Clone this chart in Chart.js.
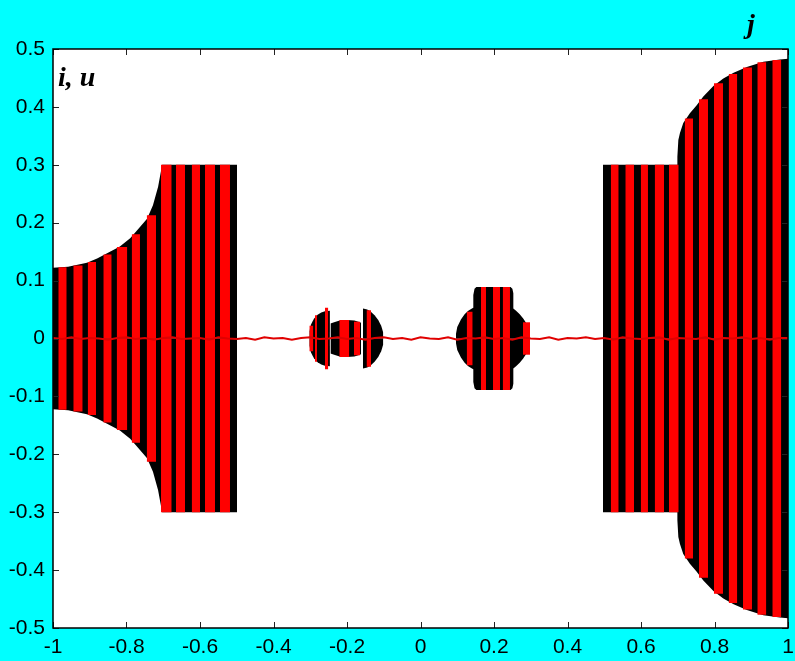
<!DOCTYPE html>
<html><head><meta charset="utf-8">
<script src="https://cdn.jsdelivr.net/npm/chart.js@4.4.0/dist/chart.umd.min.js"></script>
<style>html,body{margin:0;padding:0;background:#00ffff;} #wrap{width:795px;height:661px;}</style>
</head><body><div id="wrap"><canvas id="c" width="795" height="661"></canvas></div>
<script>
// ---- data ----
// i(j): envelope vertices of the black signal (null = gap)
const iJ = [
  -1, -0.959, -0.9075, -0.88, -0.845, -0.818, -0.79, -0.771, -0.744, -0.728, -0.714, -0.703, -0.499,
  -0.4,
  -0.3025, -0.298, -0.29, -0.28, -0.27, -0.26, -0.2465,
  -0.2457,
  -0.245, -0.235, -0.22, -0.2, -0.18, -0.165, -0.1619,
  -0.159,
  -0.1565, -0.145, -0.135, -0.125, -0.115, -0.107, -0.1012,
  0,
  0.0966, 0.1, 0.11, 0.12, 0.13, 0.14, 0.1437, 0.1437, 0.147, 0.152, 0.245, 0.25, 0.2526, 0.2526, 0.26, 0.27, 0.28, 0.29, 0.298,
  0.4,
  0.4966, 0.699, 0.699, 0.7016, 0.706, 0.715, 0.733, 0.7516, 0.7696, 0.797, 0.824, 0.852, 0.888, 0.933, 0.978, 1
];
const iAmp = [
  0.122, 0.124, 0.131, 0.138, 0.150, 0.159, 0.173, 0.187, 0.207, 0.230, 0.262, 0.300, 0.300,
  null,
  0.012, 0.024, 0.034, 0.041, 0.045, 0.047, 0.048,
  null,
  0.026, 0.028, 0.031, 0.032, 0.031, 0.028, 0.027,
  null,
  0.052, 0.050, 0.046, 0.040, 0.032, 0.022, 0.010,
  null,
  0.008, 0.020, 0.033, 0.042, 0.048, 0.052, 0.053, 0.075, 0.086, 0.089, 0.089, 0.086, 0.078, 0.052, 0.048, 0.042, 0.034, 0.024, 0.008,
  null,
  0.300, 0.300, 0.314, 0.343, 0.355, 0.372, 0.389, 0.403, 0.418, 0.436, 0.449, 0.459, 0.469, 0.478, 0.482, 0.483
];
// u(j): red stripes (start, end, amplitude)
const uStart = [-0.9856, -0.9448, -0.9056, -0.8631, -0.8267, -0.7859, -0.745, -0.7061, -0.6653, -0.6226, -0.5864, -0.5456,
  -0.3025, -0.2871, -0.2599, -0.2210, -0.1810, -0.1469,
  0.1257, 0.1646, 0.1973, 0.2237, 0.2789,
  0.5176, 0.5573, 0.5992, 0.6373, 0.6762, 0.7189, 0.7578, 0.7986, 0.8386, 0.8776, 0.9165, 0.9573];
const uEnd = [-0.9627, -0.9192, -0.883, -0.8403, -0.7978, -0.7633, -0.7197, -0.677, -0.6408, -0.6, -0.5592, -0.5184,
  -0.2916, -0.2816, -0.2509, -0.1937, -0.1646, -0.1347,
  0.142, 0.1782, 0.2163, 0.2435, 0.298,
  0.5393, 0.5810, 0.6190, 0.6626, 0.7026, 0.7415, 0.7823, 0.8231, 0.8620, 0.9020, 0.9410, 0.9818];
const uAmp = [0.123, 0.126, 0.132, 0.145, 0.158, 0.180, 0.213, 0.3, 0.3, 0.3, 0.3, 0.3,
  0.022, 0.040, 0.053, 0.032, 0.029, 0.049,
  0.046, 0.089, 0.089, 0.089, 0.028,
  0.3, 0.3, 0.3, 0.3, 0.3, 0.380, 0.413, 0.441, 0.457, 0.468, 0.477, 0.481];
// near-zero residual trace
const zeroJ = [-1, -0.975, -0.95, -0.925, -0.9, -0.875, -0.85, -0.825, -0.8, -0.775, -0.75, -0.725, -0.7, -0.675, -0.65, -0.625,
  -0.6, -0.575, -0.55, -0.525, -0.5, -0.475, -0.45, -0.425, -0.4, -0.375, -0.35, -0.325, -0.3, -0.275, -0.25, -0.225,
  -0.2, -0.175, -0.15, -0.125, -0.1, -0.075, -0.05, -0.025, 0, 0.025, 0.05, 0.075, 0.1, 0.125, 0.15, 0.175,
  0.2, 0.225, 0.25, 0.275, 0.3, 0.325, 0.35, 0.375, 0.4, 0.425, 0.45, 0.475, 0.5, 0.525, 0.55, 0.575,
  0.6, 0.625, 0.65, 0.675, 0.7, 0.725, 0.75, 0.775, 0.8, 0.825, 0.85, 0.875, 0.9, 0.925, 0.95, 0.975, 1];
const zeroVal = [0.001, -0.001, 0.002, -0.001, 0.001, 0.000, -0.002, 0.001, 0.002, -0.001, 0.001, -0.002, 0.001, 0.002, -0.001, 0.000,
  0.001, -0.002, 0.002, 0.000, -0.001, 0.001, -0.002, 0.002, 0.000, 0.001, -0.002, 0.001, 0.002, -0.001, 0.000, 0.002,
  -0.001, 0.001, -0.002, 0.001, 0.002, -0.001, 0.001, -0.002, 0.002, 0.000, -0.001, 0.002, -0.002, 0.001, 0.000, 0.002,
  -0.001, 0.001, -0.002, 0.002, 0.000, -0.001, 0.002, -0.002, 0.001, 0.000, 0.002, -0.001, 0.001, -0.002, 0.002, 0.000,
  -0.001, 0.001, 0.002, -0.002, 0.001, 0.000, -0.001, 0.002, -0.002, 0.001, 0.000, 0.002, -0.001, 0.001, -0.002, 0.001, 0.001];
const xTicks = [-1, -0.8, -0.6, -0.4, -0.2, 0, 0.2, 0.4, 0.6, 0.8, 1];
const xTickLabels = ['-1', '-0.8', '-0.6', '-0.4', '-0.2', '0', '0.2', '0.4', '0.6', '0.8', '1'];
const yTicks = [-0.5, -0.4, -0.3, -0.2, -0.1, 0, 0.1, 0.2, 0.3, 0.4, 0.5];
const yTickLabels = ['-0.5', '-0.4', '-0.3', '-0.2', '-0.1', '0', '0.1', '0.2', '0.3', '0.4', '0.5'];

// ---- build datasets ----
const envPts = sign => iJ.map((j, k) => ({x: j, y: iAmp[k] === null ? null : sign * iAmp[k]}));
const stripePts = sign => {
  const p = [];
  uStart.forEach((s, k) => {
    p.push({x: s, y: sign * uAmp[k]}, {x: uEnd[k], y: sign * uAmp[k]});
    if (k < uStart.length - 1) p.push({x: (uEnd[k] + uStart[k + 1]) / 2, y: null});
  });
  return p;
};
const fillSet = (data, color, order) => ({data, borderWidth: 0, borderColor: color, backgroundColor: color,
  fill: 'origin', pointRadius: 0, tension: 0, order, spanGaps: false});

const frame = {
  id: 'frame',
  beforeDraw(chart) {
    const {ctx, chartArea: a} = chart;
    ctx.save();
    ctx.fillStyle = '#00ffff';
    ctx.fillRect(0, 0, chart.width, chart.height);
    ctx.fillStyle = '#ffffff';
    ctx.fillRect(a.left, a.top, a.right - a.left, a.bottom - a.top);
    ctx.restore();
  },
  afterDraw(chart) {
    const {ctx, chartArea: a, scales} = chart;
    ctx.save();
    ctx.strokeStyle = '#222';
    ctx.lineWidth = 1;
    const tl = 6;
    ctx.beginPath();
    xTicks.forEach(v => {
      const px = Math.round(scales.x.getPixelForValue(v)) + 0.5;
      ctx.moveTo(px, a.bottom); ctx.lineTo(px, a.bottom - tl);
      ctx.moveTo(px, a.top); ctx.lineTo(px, a.top + tl);
    });
    yTicks.forEach(v => {
      const py = Math.round(scales.y.getPixelForValue(v)) + 0.5;
      ctx.moveTo(a.left, py); ctx.lineTo(a.left + tl, py);
      ctx.moveTo(a.right, py); ctx.lineTo(a.right - tl, py);
    });
    ctx.stroke();
    ctx.strokeStyle = '#000';
    ctx.lineWidth = 1.5;
    ctx.strokeRect(a.left, a.top, a.right - a.left, a.bottom - a.top);
    ctx.fillStyle = '#000';
    ctx.font = 'italic bold 28px "Liberation Serif"';
    ctx.textBaseline = 'alphabetic';
    ctx.textAlign = 'left';
    ctx.fillText('j', 747, 33);
    ctx.fillText('i, u', 58, 86);
    ctx.restore();
  }
};

new Chart(document.getElementById('c'), {
  type: 'line',
  data: {
    datasets: [
      {data: zeroJ.map((j, k) => ({x: j, y: zeroVal[k]})), borderColor: '#e00000', borderWidth: 2,
        pointRadius: 0, fill: false, tension: 0, order: 0},
      fillSet(stripePts(1), '#ff0000', 1),
      fillSet(stripePts(-1), '#ff0000', 1),
      fillSet(envPts(1), '#000000', 2),
      fillSet(envPts(-1), '#000000', 2)
    ]
  },
  options: {
    responsive: false,
    animation: false,
    events: [],
    layout: {padding: {top: 49, right: 7, left: 0, bottom: 0}},
    plugins: {legend: {display: false}, tooltip: {enabled: false}},
    scales: {
      x: {
        type: 'linear', min: -1, max: 1,
        afterBuildTicks: s => { s.ticks = xTicks.map(v => ({value: v})); },
        afterFit: s => { s.height = 33; s.paddingLeft = 0; s.paddingRight = 0; },
        grid: {display: false, drawTicks: false}, border: {display: false},
        ticks: {callback: (v, i) => xTickLabels[i], autoSkip: false, maxRotation: 0, padding: 7,
          color: '#000', font: {family: '"Liberation Sans", Arial', size: 21}}
      },
      y: {
        type: 'linear', min: -0.5, max: 0.5,
        afterBuildTicks: s => { s.ticks = yTicks.map(v => ({value: v})); },
        afterFit: s => { s.width = 53; s.paddingTop = 0; s.paddingBottom = 0; },
        grid: {display: false, drawTicks: false}, border: {display: false},
        ticks: {callback: (v, i) => yTickLabels[i], autoSkip: false, padding: 8,
          color: '#000', font: {family: '"Liberation Sans", Arial', size: 21}}
      }
    }
  },
  plugins: [frame]
});
</script></body></html>
